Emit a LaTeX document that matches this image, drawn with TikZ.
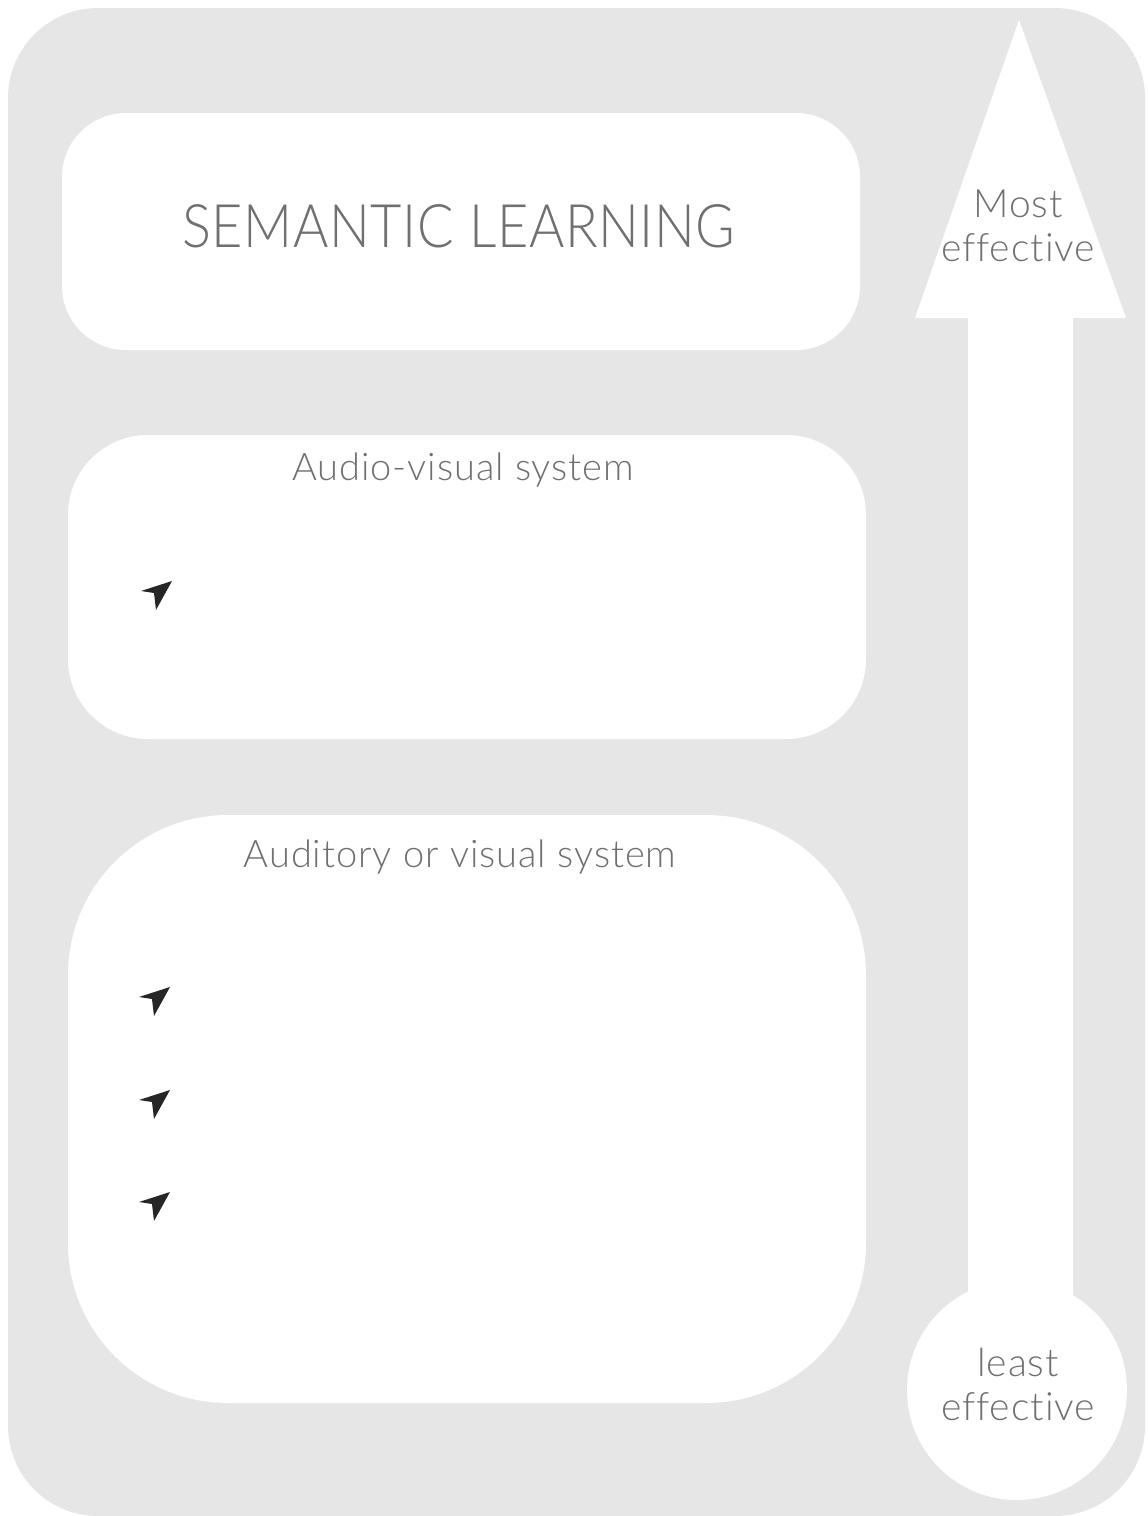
\documentclass[tikz,border=0pt]{standalone}
\usepackage{fontspec}
\setmainfont{Lato}[UprightFont=* Light, Ligatures=NoCommon, LetterSpace=2.5]
\definecolor{bggray}{HTML}{E6E6E6}
\definecolor{txtgray}{HTML}{707070}
\definecolor{icon}{HTML}{262626}
\tikzset{
  panel/.style={fill=white, draw=none},
  lbl/.style={text=txtgray, inner sep=0pt, align=center},
  navicon/.pic={\fill[icon] (17,-13) -- (-14,-3) -- (-1,-1) -- (1,16) -- cycle;}
}
\begin{document}
\begin{tikzpicture}[x=0.5pt,y=-0.5pt]
\useasboundingbox (0,0) rectangle (1147,1516);
% background
\fill[bggray, rounded corners=45pt] (8,8) rectangle (1145,1516);
% panels
\fill[panel, rounded corners=32pt] (62,113) rectangle (860,350);
\node[lbl, font=\fontsize{30}{34}\selectfont\addfontfeature{FakeStretch=0.9,LetterSpace=1}] (sem) at (459,226) {SEMANTIC LEARNING};
\fill[panel, rounded corners=40pt] (68,435) rectangle (866,739);
\node[lbl, font=\fontsize{19}{23}\selectfont] (av) at (463,470) {Audio-visual system};
\fill[panel, rounded corners=80pt] (68,815) rectangle (866,1403);
\node[lbl, font=\fontsize{19}{23}\selectfont] (aov) at (460,857) {Auditory or visual system};
% icons
\pic at (155,594) {navicon};
\pic at (153,1000) {navicon};
\pic at (153,1103) {navicon};
\pic at (153,1205) {navicon};
% arrow
\fill[white] (1019,20) -- (1126,318) -- (1073,318) -- (1073,1320) -- (968,1320) -- (968,318) -- (915,318) -- cycle;
\fill[white] (1017,1390) circle[radius=55pt];
\node[lbl, font=\fontsize{19.5}{22}\selectfont] (most) at (1018,226) {Most\\effective};
\node[lbl, font=\fontsize{19.5}{22}\selectfont] (least) at (1018,1384) {least\\effective};
\end{tikzpicture}
\end{document}
